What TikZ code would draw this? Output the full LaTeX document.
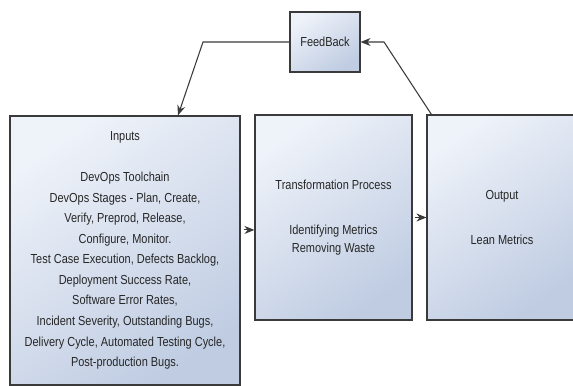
\documentclass[tikz,border=0pt]{standalone}
\usepackage{fontspec}
\setmainfont{Liberation Sans}[FakeStretch=0.84]
\usetikzlibrary{arrows.meta}
\definecolor{boxlight}{HTML}{EEF2F9}
\definecolor{boxdark}{HTML}{BFCCE2}
\definecolor{edgegray}{HTML}{3A3A3A}
\definecolor{textgray}{HTML}{262626}

\begin{document}
\begin{tikzpicture}[x=0.75pt,y=0.75pt,
	box/.style={draw=edgegray,line width=0.9pt,top color=boxlight,bottom color=boxdark,shading angle=35,
		text=textgray,align=center,inner sep=0pt,font=\fontsize{9.8}{15.4}\selectfont},
	link/.style={draw=edgegray,line width=0.8pt,-{Stealth[length=7.5pt,width=6pt]}}]
				\useasboundingbox (0,0) rectangle (573,385);
				\node[box,minimum width=52.5pt,minimum height=45pt] (fb) at (325,343) {FeedBack};
				\node[box,minimum width=172.5pt,minimum height=201.75pt] (inputs) at (125,134.5) {Inputs\\[15.4pt]
					DevOps Toolchain\\
					DevOps Stages - Plan, Create,\\
					Verify, Preprod, Release,\\
					Configure, Monitor.\\
					Test Case Execution, Defects Backlog,\\
					Deployment Success Rate,\\
					Software Error Rates,\\
					Incident Severity, Outstanding Bugs,\\
					Delivery Cycle, Automated Testing Cycle,\\
					Post-production Bugs.};
				\node[box,minimum width=117.75pt,minimum height=153.75pt,font=\fontsize{9.8}{13.5}\selectfont] (trans) at (333.5,167.5) {Transformation Process\\[20pt]
					Identifying Metrics\\
					Removing Waste};
				\node[box,minimum width=112.5pt,minimum height=153.75pt] (output) at (502,167.5) {Output\\[18pt]
					Lean Metrics};
				\coordinate (fbright) at (384,343);
				\coordinate (fbleft) at (203,343);
				\draw[link,shorten <=2.25pt] ([yshift=15.4pt]inputs.east) -- ([yshift=15.4pt]inputs.east -| trans.west);
				\draw[link] ([xshift=2pt]trans.east) -- (output.west);
				\draw[link] ([xshift=3.75pt]output.north west) -- (fbright) -- (fb.east);
				\draw[link] (fb.west) -- (fbleft) -- ([xshift=39.75pt]inputs.north);
			\end{tikzpicture}
\end{document}
